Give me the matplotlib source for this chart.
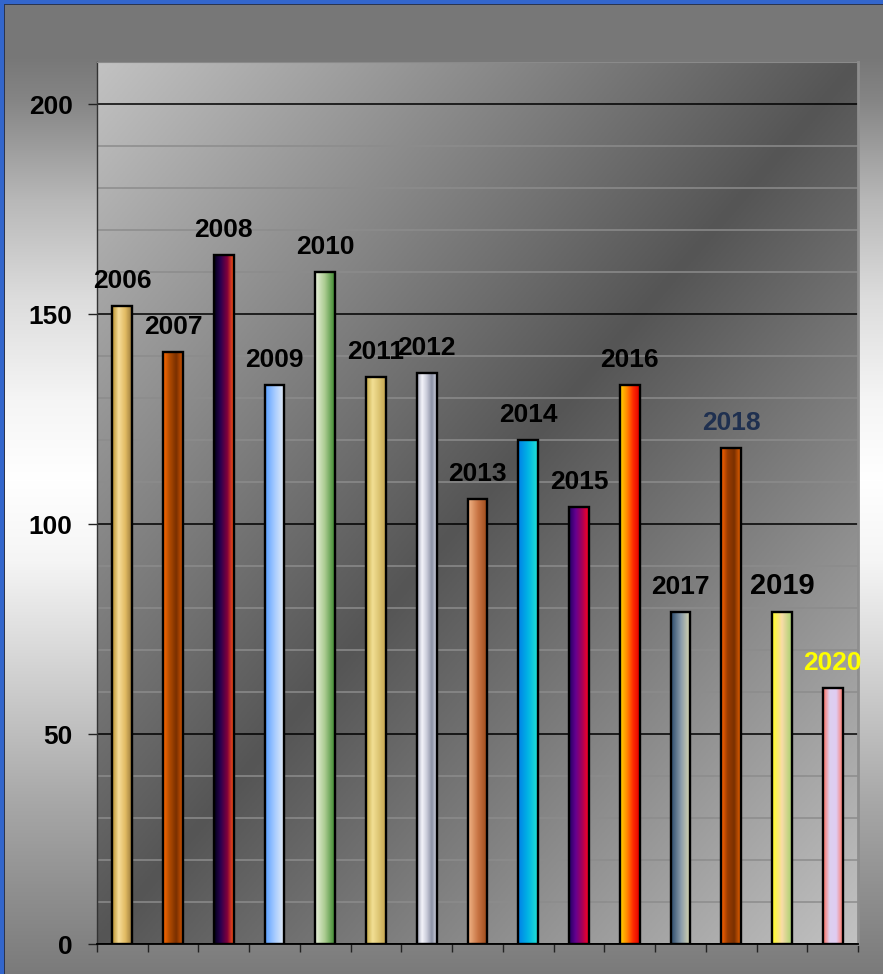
import numpy as np
import matplotlib
matplotlib.use("Agg")
import matplotlib.pyplot as plt
from matplotlib.colors import LinearSegmentedColormap, to_rgb
from matplotlib.patches import Rectangle

plt.rcParams['font.family'] = ['Liberation Sans', 'DejaVu Sans']

# data
years = ['2006', '2007', '2008', '2009', '2010', '2011', '2012', '2013',
         '2014', '2015', '2016', '2017', '2018', '2019', '2020']
values = [152, 141, 164, 133, 160, 135, 136, 106, 120, 104, 133, 79, 118, 79, 61]

# horizontal gradient stops for each bar (left -> right)
bar_stops = [
    ['#b8902c', '#f6dc98', '#e2bc64', '#9c7c3c'],
    ['#ff6a00', '#b04a00', '#7a3000', '#d05400'],
    ['#000018', '#2a0050', '#80003c', '#ff5a10'],
    ['#5aa0ff', '#a8ccff', '#e8eef5'],
    ['#eaf2dc', '#aacb90', '#3e8a30'],
    ['#c4aa48', '#f2df94', '#dcc472', '#c4a450'],
    ['#9ea2b4', '#f4f4fa', '#c8cad8', '#8a90a4', '#d4d6e2'],
    ['#f2b688', '#c87444', '#9a4818'],
    ['#0080e8', '#00b4e4', '#22e0d4'],
    ['#200060', '#640090', '#a80058', '#ff0020'],
    ['#ffd400', '#ff8c00', '#ff2a00', '#e00000'],
    ['#2c4c6c', '#8a9caa', '#dcdab0'],
    ['#ff6400', '#9a3c00', '#7a3000', '#e86200'],
    ['#ffff20', '#f8dca8', '#a8d070'],
    ['#ff7060', '#dcd0f0', '#e0ccf2', '#ff7a68'],
]
label_colors = ['black'] * 15
label_colors[12] = '#1f3050'
label_colors[14] = '#ffff00'
label_sizes = [19] * 15
label_sizes[13] = 21

W, H = 883, 974
fig = plt.figure(figsize=(W / 100, H / 100), dpi=100)

# outer background: vertical gradient
bg = fig.add_axes([0, 0, 1, 1], zorder=-10)
py = np.arange(H)
prof = np.interp(py, [0, 55, 100, 200, 300, 400, 480, 560, 640, 720, 800, 880, 974],
                 [0x77, 0x77, 0x85, 0xb8, 0xdd, 0xf5, 0xff, 0xf5, 0xdc, 0xc2, 0xa8, 0x92, 0x7a]) / 255
bg.imshow(np.repeat(prof[:, None], 3, axis=1)[:, None, :], extent=[0, 1, 0, 1],
          aspect='auto', transform=bg.transAxes)
bg.set_xlim(0, 1)
bg.set_ylim(0, 1)
bg.axis('off')
bg.add_patch(Rectangle((0, 0), 4 / W, 1, transform=bg.transAxes, color='#3366cc', lw=0))
bg.add_patch(Rectangle((0, 1 - 4 / H), 1, 4 / H, transform=bg.transAxes, color='#3366cc', lw=0))
bg.add_patch(Rectangle((4 / W, 1 - 5 / H), 1, 1 / H, transform=bg.transAxes, color='#2a3550', lw=0))
bg.add_patch(Rectangle((4 / W, 0), 1 / W, 1 - 4 / H, transform=bg.transAxes, color='#2a3550', lw=0))

ax = fig.add_axes([97 / W, 30 / H, 761 / W, 882 / H])
ax.set_xlim(-0.5, len(years) - 0.5)
ax.set_ylim(0, 210)

# plot area diagonal gradient
gx, gy = np.meshgrid(np.linspace(0, 1, 300), np.linspace(0, 1, 300))
s = np.abs(gx + gy - 1)
shade = (0x55 + (0xc2 - 0x55) * s) / 255
ax.imshow(np.dstack([shade] * 3), extent=[0, 1, 0, 1], transform=ax.transAxes,
          aspect='auto', zorder=0)

# gridlines
ax.set_yticks(np.arange(0, 201, 50))
ax.set_yticks(np.arange(0, 211, 10), minor=True)
ax.yaxis.grid(True, which='minor', color='#8c8c8c', lw=1.1)
ax.yaxis.grid(True, which='major', color='black', lw=1.1)
ax.set_axisbelow(True)

x = np.arange(len(years))
bars = ax.bar(x, values, width=0.39, facecolor='none', edgecolor='black', lw=1.7, zorder=3)
for rect, stops in zip(bars, bar_stops):
    cmap = LinearSegmentedColormap.from_list('g', [to_rgb(c) for c in stops])
    grad = cmap(np.linspace(0, 1, 64))[None, :, :3]
    x0, w, h = rect.get_x(), rect.get_width(), rect.get_height()
    im = ax.imshow(grad, extent=[x0, x0 + w, 0, h], aspect='auto', zorder=2,
                   interpolation='bilinear')
    im.set_clip_path(rect)

for xi, v, lab, c, fs in zip(x, values, years, label_colors, label_sizes):
    ax.annotate(lab, xy=(xi, v), xytext=(0, 13), textcoords='offset points',
                ha='center', va='baseline', fontsize=fs, fontweight='bold', color=c,
                zorder=5)

ax.set_xticks(np.arange(-0.5, len(years), 1))
ax.set_xticklabels([])
ax.tick_params(axis='x', direction='out', length=5.5, width=1, color='#222')
ax.tick_params(axis='y', which='major', direction='out', length=6.5, width=1,
               pad=11, labelsize=19, color='#222')
ax.tick_params(axis='y', which='minor', length=0)
for t in ax.get_yticklabels():
    t.set_fontweight('bold')

ax.spines['left'].set_color('#333333')
ax.spines['left'].set_linewidth(1)
ax.spines['bottom'].set_color('black')
ax.spines['bottom'].set_linewidth(1.3)
ax.spines['top'].set_color('#8a8a8a')
ax.spines['right'].set_color('#8e8e8e')
ax.spines['right'].set_linewidth(2)

fig.savefig('out.png', dpi=100)
